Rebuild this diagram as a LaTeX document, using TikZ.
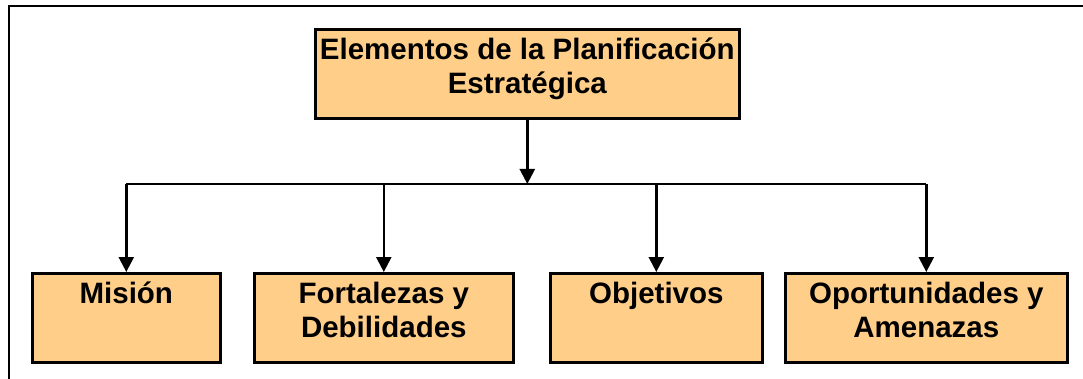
\documentclass[tikz,border=0pt]{standalone}
\usepackage{fontspec}
\setmainfont{Liberation Sans}
\usetikzlibrary{arrows.meta}
\definecolor{boxfill}{RGB}{255,207,138}
\tikzset{
  box/.style={draw=black, line width=2.6pt, fill=boxfill, inner sep=0pt, anchor=north west},
  txt/.style={anchor=north, inner sep=0pt, align=center, font=\fontsize{29.5}{34}\selectfont\bfseries},
  conn/.style={line width=2.4pt},
  arr/.style={line width=2.4pt, -{Triangle[width=15pt,length=15pt]}},
  frame/.style={line width=2.6pt}
}
\begin{document}
\begin{tikzpicture}[x=1pt,y=1pt]
\useasboundingbox (0,0) rectangle (1083,-379);
\fill[white] (0,0) rectangle (1083,-379);
\draw[frame] (9,-379) -- (9,-6) -- (1083,-6);
% boxes
\node[box, minimum width=424pt, minimum height=89pt] (top) at (314,-28) {};
\node[box, minimum width=188pt, minimum height=89pt] (mision) at (31,-272) {};
\node[box, minimum width=259pt, minimum height=89pt] (fort) at (253,-272) {};
\node[box, minimum width=212pt, minimum height=89pt] (obj) at (549,-272) {};
\node[box, minimum width=282pt, minimum height=89pt] (opor) at (784,-272) {};
% texts
\node[txt] (ttop) at ([yshift=-1pt]top.north) {\rule{0pt}{30pt}Elementos de la Planificación\\Estratégica};
\node[txt] (tmision) at ([yshift=-1pt]mision.north) {\rule{0pt}{30pt}Misión};
\node[txt] (tfort) at ([yshift=-1pt]fort.north) {\rule{0pt}{30pt}Fortalezas y\\Debilidades};
\node[txt] (tobj) at ([yshift=-1pt]obj.north) {\rule{0pt}{30pt}Objetivos};
\node[txt] (topor) at ([yshift=-1pt]opor.north) {\rule{0pt}{30pt}Oportunidades y\\Amenazas};
% connectors
\coordinate (bar) at (0,-184);
\draw[arr] (top.south) -- (top.south |- bar);
\draw[conn] (mision.north |- bar) -- (opor.north |- bar);
\draw[arr] (mision.north |- bar) -- (mision.north);
\draw[arr] (fort.north |- bar) -- (fort.north);
\draw[arr] (obj.north |- bar) -- (obj.north);
\draw[arr] (opor.north |- bar) -- (opor.north);
\end{tikzpicture}
\end{document}
